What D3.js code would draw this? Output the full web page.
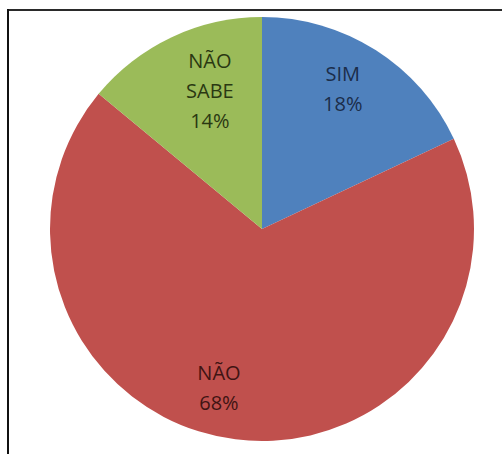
<!DOCTYPE html>
<html>
<head>
<meta charset="utf-8">
<script src="https://cdn.jsdelivr.net/npm/d3@7"></script>
<style>
  html, body { margin: 0; padding: 0; background: #fff; }
  svg { display: block; }
</style>
</head>
<body>
<svg id="chart" width="502" height="454"></svg>
<script>
const categories = ["SIM", "NÃO", "NÃO SABE"];
const values = [18, 68, 14];
const labelLines = [["SIM", "18%"], ["NÃO", "68%"], ["NÃO", "SABE", "14%"]];

const colors = ["#4F81BD", "#C0504D", "#9BBB59"];
const textColors = ["#1b2d4a", "#3f1413", "#2a3812"];

const W = 502, H = 454;
const cx = 262, cy = 229, R = 212;
const svg = d3.select("#chart");

// frame lines (top and left)
svg.append("line").attr("x1", 7).attr("y1", 10).attr("x2", W).attr("y2", 10)
  .attr("stroke", "#2a2a2a").attr("stroke-width", 2);
svg.append("line").attr("x1", 8).attr("y1", 9).attr("x2", 8).attr("y2", H)
  .attr("stroke", "#111").attr("stroke-width", 2);

const data = categories.map((c, i) => ({ cat: c, value: values[i], lines: labelLines[i], i }));
const pie = d3.pie().value(d => d.value).sort(null);
const arcs = pie(data);
const arc = d3.arc().innerRadius(0).outerRadius(R);
const labelArc = d3.arc().innerRadius(160).outerRadius(160);

const g = svg.append("g").attr("transform", `translate(${cx},${cy})`);
g.selectAll("path").data(arcs).join("path")
  .attr("d", arc)
  .attr("fill", d => colors[d.data.i]);

// layout nudges for label placement (Excel best-fit)
const nudge = { "SIM": [-5, -5], "NÃO": [-23, 0], "NÃO SABE": [16, 7] };
const lineH = 30;

arcs.forEach(a => {
  const [x, y] = labelArc.centroid(a);
  const n = nudge[a.data.cat];
  const lx = x + n[0], ly = y + n[1];
  const lines = a.data.lines;
  const t = g.append("text")
    .attr("x", lx).attr("y", ly)
    .attr("text-anchor", "middle")
    .attr("font-family", "'Open Sans', sans-serif")
    .attr("font-size", 20)
    .attr("fill", textColors[a.data.i]);
  lines.forEach((s, k) => {
    t.append("tspan")
      .attr("x", lx)
      .attr("y", ly + (k - (lines.length - 1) / 2) * lineH + 7)
      .text(s);
  });
});
</script>
</body>
</html>
